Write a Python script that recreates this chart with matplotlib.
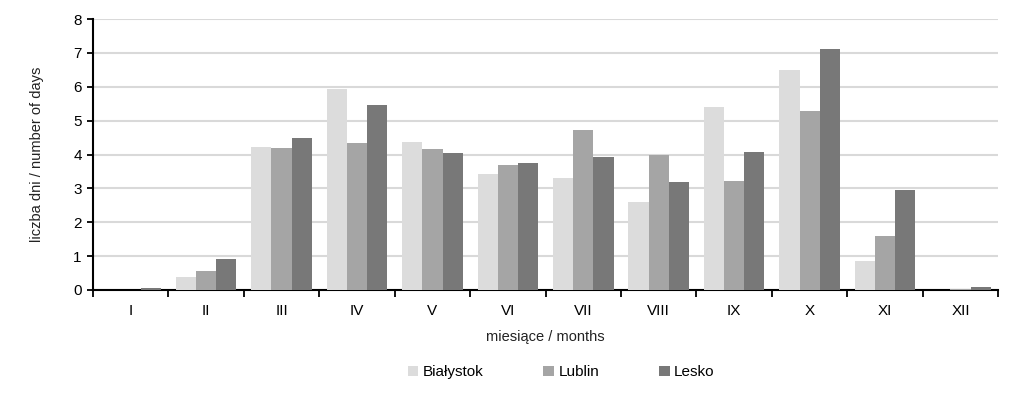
import numpy as np
import matplotlib
matplotlib.use("Agg")
import matplotlib.pyplot as plt
from matplotlib.ticker import FixedLocator, NullFormatter

plt.rcParams["font.family"] = ["Liberation Sans", "DejaVu Sans"]

months = ["I", "II", "III", "IV", "V", "VI", "VII", "VIII", "IX", "X", "XI", "XII"]
bialystok = [0.0, 0.37, 4.21, 5.94, 4.36, 3.43, 3.32, 2.59, 5.41, 6.49, 0.85, 0.0]
lublin = [0.01, 0.56, 4.18, 4.33, 4.16, 3.70, 4.73, 3.98, 3.22, 5.29, 1.58, 0.03]
lesko = [0.05, 0.91, 4.50, 5.47, 4.05, 3.76, 3.93, 3.19, 4.07, 7.12, 2.96, 0.10]

series = [
    ("Białystok", bialystok, "#dcdcdc"),
    ("Lublin", lublin, "#a5a5a5"),
    ("Lesko", lesko, "#787878"),
]

fig = plt.figure(figsize=(10.24, 3.98), dpi=100)
ax = fig.add_axes([0.0908, 0.2714, 0.884, 0.6806])

x = np.arange(len(months))
w = 0.268
for i, (name, vals, col) in enumerate(series):
    ax.bar(x + (i - 1) * w, vals, w, color=col, label=name, zorder=3)

ax.set_xlim(-0.5, len(months) - 0.5)
ax.set_ylim(0, 8)
ax.set_yticks(range(0, 9))
ax.yaxis.grid(True, color="#d9d9d9", linewidth=1.5, zorder=0)
ax.set_axisbelow(True)

# category labels centred, tick marks on boundaries
ax.set_xticks(x)
ax.set_xticklabels(months)
ax.tick_params(axis="x", which="major", length=0, pad=10, labelsize=11)
ax.xaxis.set_minor_locator(FixedLocator(np.arange(-0.5, len(months), 1.0)))
ax.xaxis.set_minor_formatter(NullFormatter())
ax.tick_params(axis="x", which="minor", length=5, width=1.3, direction="out")
ax.tick_params(axis="y", length=4, width=1.3, labelsize=11, pad=4)

for s in ["top", "right"]:
    ax.spines[s].set_visible(False)
for s in ["left", "bottom"]:
    ax.spines[s].set_linewidth(1.5)
    ax.spines[s].set_color("black")

ax.set_xlabel("miesiące / months", fontsize=10.5, labelpad=9, color="#222222")
ax.set_ylabel("liczba dni / number of days", fontsize=10.5, labelpad=21, color="#222222")

leg = fig.legend(loc="lower center", bbox_to_anchor=(0.548, 0.012), ncol=3, frameon=False,
                 fontsize=11, handlelength=0.7, handleheight=0.7, handletextpad=0.3,
                 columnspacing=3.9)

fig.savefig("out.png", dpi=100)
